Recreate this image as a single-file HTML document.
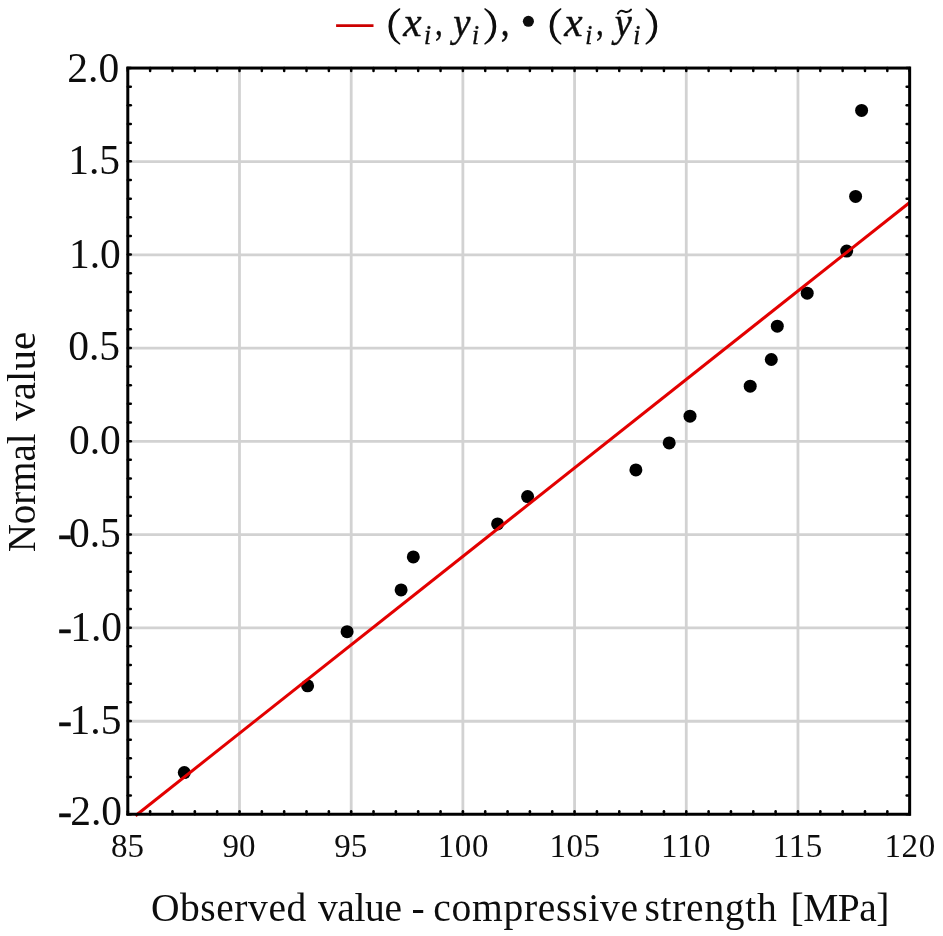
<!DOCTYPE html>
<html><head><meta charset="utf-8"><title>Normal probability plot</title>
<style>html,body{margin:0;padding:0;background:#fff;}svg{display:block;filter:blur(0.45px);}text{font-family:"Liberation Serif",serif;fill:#0d0d0d;}</style></head><body>
<svg width="943" height="936" viewBox="0 0 943 936">
<rect width="943" height="936" fill="#fff"/>
<g stroke="#d2d2d2" stroke-width="2.8" fill="none">
<line x1="239.49" y1="68.05" x2="239.49" y2="814.25"/>
<line x1="351.19" y1="68.05" x2="351.19" y2="814.25"/>
<line x1="462.88" y1="68.05" x2="462.88" y2="814.25"/>
<line x1="574.57" y1="68.05" x2="574.57" y2="814.25"/>
<line x1="686.26" y1="68.05" x2="686.26" y2="814.25"/>
<line x1="797.96" y1="68.05" x2="797.96" y2="814.25"/>
<line x1="127.8" y1="721.23" x2="909.65" y2="721.23"/>
<line x1="127.8" y1="627.95" x2="909.65" y2="627.95"/>
<line x1="127.8" y1="534.67" x2="909.65" y2="534.67"/>
<line x1="127.8" y1="441.40" x2="909.65" y2="441.40"/>
<line x1="127.8" y1="348.13" x2="909.65" y2="348.13"/>
<line x1="127.8" y1="254.85" x2="909.65" y2="254.85"/>
<line x1="127.8" y1="161.57" x2="909.65" y2="161.57"/>
</g>
<g fill="#000">
<circle cx="184.3" cy="772.6" r="6.5"/>
<circle cx="307.6" cy="685.8" r="6.5"/>
<circle cx="347.1" cy="631.7" r="6.5"/>
<circle cx="401.1" cy="589.9" r="6.5"/>
<circle cx="413.3" cy="556.9" r="6.5"/>
<circle cx="497.6" cy="523.9" r="6.5"/>
<circle cx="527.6" cy="496.6" r="6.5"/>
<circle cx="635.9" cy="469.9" r="6.5"/>
<circle cx="669.2" cy="442.9" r="6.5"/>
<circle cx="690.0" cy="416.2" r="6.5"/>
<circle cx="750.2" cy="386.2" r="6.5"/>
<circle cx="771.3" cy="359.5" r="6.5"/>
<circle cx="777.3" cy="326.2" r="6.5"/>
<circle cx="807.2" cy="293.2" r="6.5"/>
<circle cx="846.7" cy="251.1" r="6.5"/>
<circle cx="855.6" cy="196.4" r="6.5"/>
<circle cx="861.6" cy="110.4" r="6.5"/>
</g>
<line x1="135.5" y1="815.7" x2="909.65" y2="202.5" stroke="#e30000" stroke-width="3.0"/>
<g stroke="#000" stroke-width="2.5" stroke-linecap="round">
<line x1="127.80" y1="68.05" x2="127.80" y2="71.05"/><line x1="127.80" y1="814.25" x2="127.80" y2="811.25"/>
<line x1="150.14" y1="68.05" x2="150.14" y2="71.05"/><line x1="150.14" y1="814.25" x2="150.14" y2="811.25"/>
<line x1="172.48" y1="68.05" x2="172.48" y2="71.05"/><line x1="172.48" y1="814.25" x2="172.48" y2="811.25"/>
<line x1="194.82" y1="68.05" x2="194.82" y2="71.05"/><line x1="194.82" y1="814.25" x2="194.82" y2="811.25"/>
<line x1="217.15" y1="68.05" x2="217.15" y2="71.05"/><line x1="217.15" y1="814.25" x2="217.15" y2="811.25"/>
<line x1="239.49" y1="68.05" x2="239.49" y2="71.05"/><line x1="239.49" y1="814.25" x2="239.49" y2="811.25"/>
<line x1="261.83" y1="68.05" x2="261.83" y2="71.05"/><line x1="261.83" y1="814.25" x2="261.83" y2="811.25"/>
<line x1="284.17" y1="68.05" x2="284.17" y2="71.05"/><line x1="284.17" y1="814.25" x2="284.17" y2="811.25"/>
<line x1="306.51" y1="68.05" x2="306.51" y2="71.05"/><line x1="306.51" y1="814.25" x2="306.51" y2="811.25"/>
<line x1="328.85" y1="68.05" x2="328.85" y2="71.05"/><line x1="328.85" y1="814.25" x2="328.85" y2="811.25"/>
<line x1="351.19" y1="68.05" x2="351.19" y2="71.05"/><line x1="351.19" y1="814.25" x2="351.19" y2="811.25"/>
<line x1="373.52" y1="68.05" x2="373.52" y2="71.05"/><line x1="373.52" y1="814.25" x2="373.52" y2="811.25"/>
<line x1="395.86" y1="68.05" x2="395.86" y2="71.05"/><line x1="395.86" y1="814.25" x2="395.86" y2="811.25"/>
<line x1="418.20" y1="68.05" x2="418.20" y2="71.05"/><line x1="418.20" y1="814.25" x2="418.20" y2="811.25"/>
<line x1="440.54" y1="68.05" x2="440.54" y2="71.05"/><line x1="440.54" y1="814.25" x2="440.54" y2="811.25"/>
<line x1="462.88" y1="68.05" x2="462.88" y2="71.05"/><line x1="462.88" y1="814.25" x2="462.88" y2="811.25"/>
<line x1="485.22" y1="68.05" x2="485.22" y2="71.05"/><line x1="485.22" y1="814.25" x2="485.22" y2="811.25"/>
<line x1="507.56" y1="68.05" x2="507.56" y2="71.05"/><line x1="507.56" y1="814.25" x2="507.56" y2="811.25"/>
<line x1="529.89" y1="68.05" x2="529.89" y2="71.05"/><line x1="529.89" y1="814.25" x2="529.89" y2="811.25"/>
<line x1="552.23" y1="68.05" x2="552.23" y2="71.05"/><line x1="552.23" y1="814.25" x2="552.23" y2="811.25"/>
<line x1="574.57" y1="68.05" x2="574.57" y2="71.05"/><line x1="574.57" y1="814.25" x2="574.57" y2="811.25"/>
<line x1="596.91" y1="68.05" x2="596.91" y2="71.05"/><line x1="596.91" y1="814.25" x2="596.91" y2="811.25"/>
<line x1="619.25" y1="68.05" x2="619.25" y2="71.05"/><line x1="619.25" y1="814.25" x2="619.25" y2="811.25"/>
<line x1="641.59" y1="68.05" x2="641.59" y2="71.05"/><line x1="641.59" y1="814.25" x2="641.59" y2="811.25"/>
<line x1="663.93" y1="68.05" x2="663.93" y2="71.05"/><line x1="663.93" y1="814.25" x2="663.93" y2="811.25"/>
<line x1="686.26" y1="68.05" x2="686.26" y2="71.05"/><line x1="686.26" y1="814.25" x2="686.26" y2="811.25"/>
<line x1="708.60" y1="68.05" x2="708.60" y2="71.05"/><line x1="708.60" y1="814.25" x2="708.60" y2="811.25"/>
<line x1="730.94" y1="68.05" x2="730.94" y2="71.05"/><line x1="730.94" y1="814.25" x2="730.94" y2="811.25"/>
<line x1="753.28" y1="68.05" x2="753.28" y2="71.05"/><line x1="753.28" y1="814.25" x2="753.28" y2="811.25"/>
<line x1="775.62" y1="68.05" x2="775.62" y2="71.05"/><line x1="775.62" y1="814.25" x2="775.62" y2="811.25"/>
<line x1="797.96" y1="68.05" x2="797.96" y2="71.05"/><line x1="797.96" y1="814.25" x2="797.96" y2="811.25"/>
<line x1="820.30" y1="68.05" x2="820.30" y2="71.05"/><line x1="820.30" y1="814.25" x2="820.30" y2="811.25"/>
<line x1="842.63" y1="68.05" x2="842.63" y2="71.05"/><line x1="842.63" y1="814.25" x2="842.63" y2="811.25"/>
<line x1="864.97" y1="68.05" x2="864.97" y2="71.05"/><line x1="864.97" y1="814.25" x2="864.97" y2="811.25"/>
<line x1="887.31" y1="68.05" x2="887.31" y2="71.05"/><line x1="887.31" y1="814.25" x2="887.31" y2="811.25"/>
<line x1="909.65" y1="68.05" x2="909.65" y2="71.05"/><line x1="909.65" y1="814.25" x2="909.65" y2="811.25"/>
<line x1="127.8" y1="814.25" x2="130.8" y2="814.25"/><line x1="909.65" y1="814.25" x2="906.65" y2="814.25"/>
<line x1="127.8" y1="795.60" x2="130.8" y2="795.60"/><line x1="909.65" y1="795.60" x2="906.65" y2="795.60"/>
<line x1="127.8" y1="776.94" x2="130.8" y2="776.94"/><line x1="909.65" y1="776.94" x2="906.65" y2="776.94"/>
<line x1="127.8" y1="758.29" x2="130.8" y2="758.29"/><line x1="909.65" y1="758.29" x2="906.65" y2="758.29"/>
<line x1="127.8" y1="739.63" x2="130.8" y2="739.63"/><line x1="909.65" y1="739.63" x2="906.65" y2="739.63"/>
<line x1="127.8" y1="720.98" x2="130.8" y2="720.98"/><line x1="909.65" y1="720.98" x2="906.65" y2="720.98"/>
<line x1="127.8" y1="702.32" x2="130.8" y2="702.32"/><line x1="909.65" y1="702.32" x2="906.65" y2="702.32"/>
<line x1="127.8" y1="683.66" x2="130.8" y2="683.66"/><line x1="909.65" y1="683.66" x2="906.65" y2="683.66"/>
<line x1="127.8" y1="665.01" x2="130.8" y2="665.01"/><line x1="909.65" y1="665.01" x2="906.65" y2="665.01"/>
<line x1="127.8" y1="646.36" x2="130.8" y2="646.36"/><line x1="909.65" y1="646.36" x2="906.65" y2="646.36"/>
<line x1="127.8" y1="627.70" x2="130.8" y2="627.70"/><line x1="909.65" y1="627.70" x2="906.65" y2="627.70"/>
<line x1="127.8" y1="609.04" x2="130.8" y2="609.04"/><line x1="909.65" y1="609.04" x2="906.65" y2="609.04"/>
<line x1="127.8" y1="590.39" x2="130.8" y2="590.39"/><line x1="909.65" y1="590.39" x2="906.65" y2="590.39"/>
<line x1="127.8" y1="571.74" x2="130.8" y2="571.74"/><line x1="909.65" y1="571.74" x2="906.65" y2="571.74"/>
<line x1="127.8" y1="553.08" x2="130.8" y2="553.08"/><line x1="909.65" y1="553.08" x2="906.65" y2="553.08"/>
<line x1="127.8" y1="534.42" x2="130.8" y2="534.42"/><line x1="909.65" y1="534.42" x2="906.65" y2="534.42"/>
<line x1="127.8" y1="515.77" x2="130.8" y2="515.77"/><line x1="909.65" y1="515.77" x2="906.65" y2="515.77"/>
<line x1="127.8" y1="497.12" x2="130.8" y2="497.12"/><line x1="909.65" y1="497.12" x2="906.65" y2="497.12"/>
<line x1="127.8" y1="478.46" x2="130.8" y2="478.46"/><line x1="909.65" y1="478.46" x2="906.65" y2="478.46"/>
<line x1="127.8" y1="459.81" x2="130.8" y2="459.81"/><line x1="909.65" y1="459.81" x2="906.65" y2="459.81"/>
<line x1="127.8" y1="441.15" x2="130.8" y2="441.15"/><line x1="909.65" y1="441.15" x2="906.65" y2="441.15"/>
<line x1="127.8" y1="422.50" x2="130.8" y2="422.50"/><line x1="909.65" y1="422.50" x2="906.65" y2="422.50"/>
<line x1="127.8" y1="403.84" x2="130.8" y2="403.84"/><line x1="909.65" y1="403.84" x2="906.65" y2="403.84"/>
<line x1="127.8" y1="385.19" x2="130.8" y2="385.19"/><line x1="909.65" y1="385.19" x2="906.65" y2="385.19"/>
<line x1="127.8" y1="366.53" x2="130.8" y2="366.53"/><line x1="909.65" y1="366.53" x2="906.65" y2="366.53"/>
<line x1="127.8" y1="347.88" x2="130.8" y2="347.88"/><line x1="909.65" y1="347.88" x2="906.65" y2="347.88"/>
<line x1="127.8" y1="329.22" x2="130.8" y2="329.22"/><line x1="909.65" y1="329.22" x2="906.65" y2="329.22"/>
<line x1="127.8" y1="310.56" x2="130.8" y2="310.56"/><line x1="909.65" y1="310.56" x2="906.65" y2="310.56"/>
<line x1="127.8" y1="291.91" x2="130.8" y2="291.91"/><line x1="909.65" y1="291.91" x2="906.65" y2="291.91"/>
<line x1="127.8" y1="273.26" x2="130.8" y2="273.26"/><line x1="909.65" y1="273.26" x2="906.65" y2="273.26"/>
<line x1="127.8" y1="254.60" x2="130.8" y2="254.60"/><line x1="909.65" y1="254.60" x2="906.65" y2="254.60"/>
<line x1="127.8" y1="235.94" x2="130.8" y2="235.94"/><line x1="909.65" y1="235.94" x2="906.65" y2="235.94"/>
<line x1="127.8" y1="217.29" x2="130.8" y2="217.29"/><line x1="909.65" y1="217.29" x2="906.65" y2="217.29"/>
<line x1="127.8" y1="198.63" x2="130.8" y2="198.63"/><line x1="909.65" y1="198.63" x2="906.65" y2="198.63"/>
<line x1="127.8" y1="179.98" x2="130.8" y2="179.98"/><line x1="909.65" y1="179.98" x2="906.65" y2="179.98"/>
<line x1="127.8" y1="161.32" x2="130.8" y2="161.32"/><line x1="909.65" y1="161.32" x2="906.65" y2="161.32"/>
<line x1="127.8" y1="142.67" x2="130.8" y2="142.67"/><line x1="909.65" y1="142.67" x2="906.65" y2="142.67"/>
<line x1="127.8" y1="124.02" x2="130.8" y2="124.02"/><line x1="909.65" y1="124.02" x2="906.65" y2="124.02"/>
<line x1="127.8" y1="105.36" x2="130.8" y2="105.36"/><line x1="909.65" y1="105.36" x2="906.65" y2="105.36"/>
<line x1="127.8" y1="86.71" x2="130.8" y2="86.71"/><line x1="909.65" y1="86.71" x2="906.65" y2="86.71"/>
<line x1="127.8" y1="68.05" x2="130.8" y2="68.05"/><line x1="909.65" y1="68.05" x2="906.65" y2="68.05"/>
</g>
<rect x="127.8" y="68.05" width="781.85" height="746.2" fill="none" stroke="#000" stroke-width="3.0"/>
<g font-size="41.5">
<text x="119.2" y="82.2" text-anchor="end">2.0</text>
<text x="120.0" y="174.2" text-anchor="end">1.5</text>
<text x="120.8" y="267.8" text-anchor="end">1.0</text>
<text x="120.0" y="360.3" text-anchor="end">0.5</text>
<text x="120.8" y="453.6" text-anchor="end">0.0</text>
<text x="120.8" y="546.7" text-anchor="end">0.5</text>
<text x="58.0" y="546.7" stroke="#0d0d0d" stroke-width="0.7">-</text>
<text x="122.0" y="640.8" text-anchor="end">1.0</text>
<text x="58.0" y="640.8" stroke="#0d0d0d" stroke-width="0.7">-</text>
<text x="121.4" y="733.9" text-anchor="end">1.5</text>
<text x="58.0" y="733.9" stroke="#0d0d0d" stroke-width="0.7">-</text>
<text x="122.0" y="825.0" text-anchor="end">2.0</text>
<text x="58.0" y="825.0" stroke="#0d0d0d" stroke-width="0.7">-</text>
</g>
<g font-size="33.0">
<text x="127.40" y="856.8" text-anchor="middle">85</text>
<text x="239.09" y="856.8" text-anchor="middle">90</text>
<text x="350.79" y="856.8" text-anchor="middle">95</text>
<text x="437.73" y="856.8" letter-spacing="0.6">100</text>
<text x="549.42" y="856.8" letter-spacing="0.6">105</text>
<text x="661.11" y="856.8" letter-spacing="0.6">110</text>
<text x="772.81" y="856.8" letter-spacing="0.6">115</text>
<text x="884.50" y="856.8" letter-spacing="0.6">120</text>
</g>
<g id="xt" font-size="39.5">
<text x="150.9" y="920.8" letter-spacing="0.57">Observed</text>
<text x="318.0" y="920.8" letter-spacing="-0.4">value</text>
<text x="411.6" y="920.8" letter-spacing="0">-</text>
<text x="433.2" y="920.8" letter-spacing="0.74">compressive</text>
<text x="644.4" y="920.8" letter-spacing="0.74">strength</text>
<text x="790.6" y="920.8" letter-spacing="-0.5">[MPa]</text>
</g>
<g id="yt" font-size="41" transform="translate(35.0 0) rotate(-90)">
<text id="yt1" transform="translate(-552.3 0) scale(0.95 1)">Normal</text>
<text id="yt2" x="-420.7" y="0">value</text>
</g>
<line x1="336.1" y1="25.6" x2="373.5" y2="25.6" stroke="#cc0000" stroke-width="2.6"/>
<circle cx="528.4" cy="21.3" r="5.55" fill="#0d0d0d"/>
<g id="lg" stroke="#0d0d0d" stroke-width="0.4">
<text transform="translate(403.17 35.9) scale(1.036 1)" font-size="40" font-style="italic">x</text>
<text transform="translate(424.07 43.5) scale(0.92 1)" font-size="27.5" font-style="italic">i</text>
<text transform="translate(434.97 34.7) scale(0.82 1)" font-size="38">,</text>
<text transform="translate(453.34 35.9) scale(0.97 1)" font-size="40" font-style="italic">y</text>
<text transform="translate(471.97 43.5) scale(0.92 1)" font-size="27.5" font-style="italic">i</text>
<text transform="translate(500.64 35.4) scale(0.84 1)" font-size="42">,</text>
<text transform="translate(564.32 35.9) scale(1.036 1)" font-size="40" font-style="italic">x</text>
<text transform="translate(585.32 43.5) scale(0.92 1)" font-size="27.5" font-style="italic">i</text>
<text transform="translate(595.97 34.7) scale(0.82 1)" font-size="38">,</text>
<text transform="translate(614.71 35.9) scale(0.96 1)" font-size="40" font-style="italic">y</text>
<text transform="translate(633.32 43.5) scale(0.92 1)" font-size="27.5" font-style="italic">i</text>
</g>
<path d="M399.6 9.0 A19.76 19.76 0 0 0 399.6 43.8 A22.39 22.39 0 0 1 399.6 9.0 Z" fill="#0d0d0d" stroke="#0d0d0d" stroke-width="1.5" stroke-linejoin="round"/>
<path d="M485.0 9.0 A19.67 19.67 0 0 1 485.0 43.8 A22.22 22.22 0 0 0 485.0 9.0 Z" fill="#0d0d0d" stroke="#0d0d0d" stroke-width="1.5" stroke-linejoin="round"/>
<path d="M560.7 9.0 A19.85 19.85 0 0 0 560.7 43.8 A22.56 22.56 0 0 1 560.7 9.0 Z" fill="#0d0d0d" stroke="#0d0d0d" stroke-width="1.5" stroke-linejoin="round"/>
<path d="M646.2 9.0 A19.85 19.85 0 0 1 646.2 43.8 A22.56 22.56 0 0 0 646.2 9.0 Z" fill="#0d0d0d" stroke="#0d0d0d" stroke-width="1.5" stroke-linejoin="round"/>
<path d="M617.9 13.6 c1.4 -2.9 3.4 -3.7 6.2 -2.3 c3 1.5 5 0.9 6.9 -1.7" fill="none" stroke="#0d0d0d" stroke-width="2.0" stroke-linecap="round"/>
</svg></body></html>
